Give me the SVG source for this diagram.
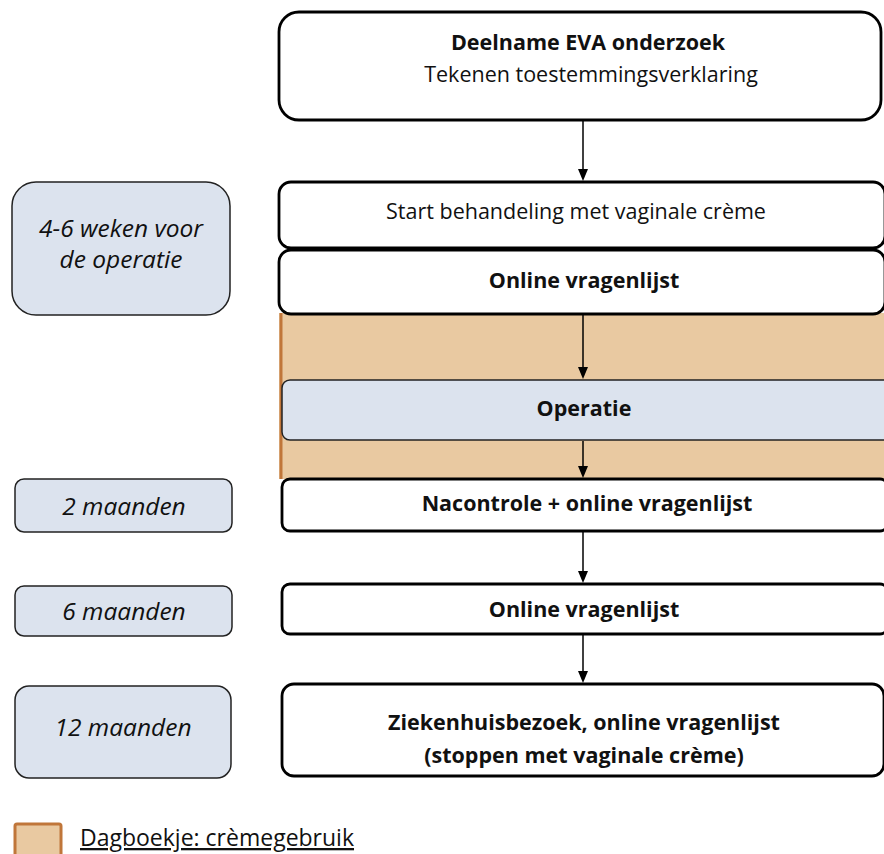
<svg xmlns="http://www.w3.org/2000/svg" width="884" height="854" viewBox="0 0 884 854">
<style>
.main{fill:#fff;stroke:#000;stroke-width:2.8}
.side{fill:#dce3ee;stroke:#222;stroke-width:1.5}
.t{font-family:"Open Sans","Liberation Sans",sans-serif;font-size:21.5px;fill:#111;text-anchor:middle}
.b{font-weight:bold}
.i{font-style:italic;font-size:24.5px}
.ln{stroke:#000;stroke-width:1.5}
</style>
<rect width="884" height="854" fill="#fff"/>
<g id="band">
<rect x="279" y="313" width="610" height="166" fill="#e9c9a1"/>
<line x1="281" y1="313" x2="281" y2="479" stroke="#c0763a" stroke-width="3"/>
</g>
<g id="connectors">
<line class="ln" x1="583" y1="121" x2="583" y2="171"/>
<path d="M578,169 L588,169 L583,181 Z" fill="#000"/>
<line class="ln" x1="583" y1="315" x2="583" y2="368"/>
<path d="M578,367 L588,367 L583,379 Z" fill="#000"/>
<line class="ln" x1="583" y1="441" x2="583" y2="468"/>
<path d="M578,466 L588,466 L583,478 Z" fill="#000"/>
<line class="ln" x1="583" y1="531" x2="583" y2="572"/>
<path d="M578,571 L588,571 L583,583 Z" fill="#000"/>
<line class="ln" x1="583" y1="635" x2="583" y2="672"/>
<path d="M578,671 L588,671 L583,683 Z" fill="#000"/>
</g>
<g id="n1">
<rect class="main" x="279" y="12" width="602" height="108" rx="20"/>
<text class="t b" x="588" y="50">Deelname EVA onderzoek</text>
<text class="t" x="591" y="82">Tekenen toestemmingsverklaring</text>
</g>
<g id="n2">
<rect class="main" x="279" y="182" width="606" height="66" rx="12"/>
<text class="t" x="576" y="219">Start behandeling met vaginale crème</text>
</g>
<g id="n3">
<rect class="main" x="279" y="250" width="606" height="64" rx="12"/>
<text class="t b" x="584" y="288">Online vragenlijst</text>
</g>
<g id="n4">
<rect x="282" y="380" width="610" height="60" rx="8" fill="#dce3ee" stroke="#222" stroke-width="1.5"/>
<text class="t b" x="584" y="416">Operatie</text>
</g>
<g id="n5">
<rect class="main" x="282" y="479" width="606" height="52" rx="8"/>
<text class="t b" x="587" y="511">Nacontrole + online vragenlijst</text>
</g>
<g id="n6">
<rect class="main" x="282" y="584" width="606" height="50" rx="8"/>
<text class="t b" x="584" y="617">Online vragenlijst</text>
</g>
<g id="n7">
<rect class="main" x="282" y="684" width="602" height="92" rx="12"/>
<text class="t b" x="584" y="730">Ziekenhuisbezoek, online vragenlijst</text>
<text class="t b" x="584" y="763">(stoppen met vaginale crème)</text>
</g>
<g id="s1">
<rect class="side" x="12" y="182" width="218" height="133" rx="24"/>
<text class="t i" x="121" y="237">4-6 weken voor</text>
<text class="t i" x="121" y="268">de operatie</text>
</g>
<g id="s2">
<rect class="side" x="15" y="479" width="217" height="53" rx="9"/>
<text class="t i" x="124" y="515">2 maanden</text>
</g>
<g id="s3">
<rect class="side" x="15" y="586" width="217" height="50" rx="9"/>
<text class="t i" x="124" y="620">6 maanden</text>
</g>
<g id="s4">
<rect class="side" x="15" y="686" width="216" height="92" rx="14"/>
<text class="t i" x="123" y="736">12 maanden</text>
</g>
<g id="legend">
<rect x="15" y="824" width="46" height="36" rx="2" fill="#e9c9a1" stroke="#c0763a" stroke-width="3"/>
<text x="80" y="846" style="font-family:'Open Sans','Liberation Sans',sans-serif;font-size:23px;fill:#111;text-decoration:underline">Dagboekje: crèmegebruik</text>
</g>
</svg>
